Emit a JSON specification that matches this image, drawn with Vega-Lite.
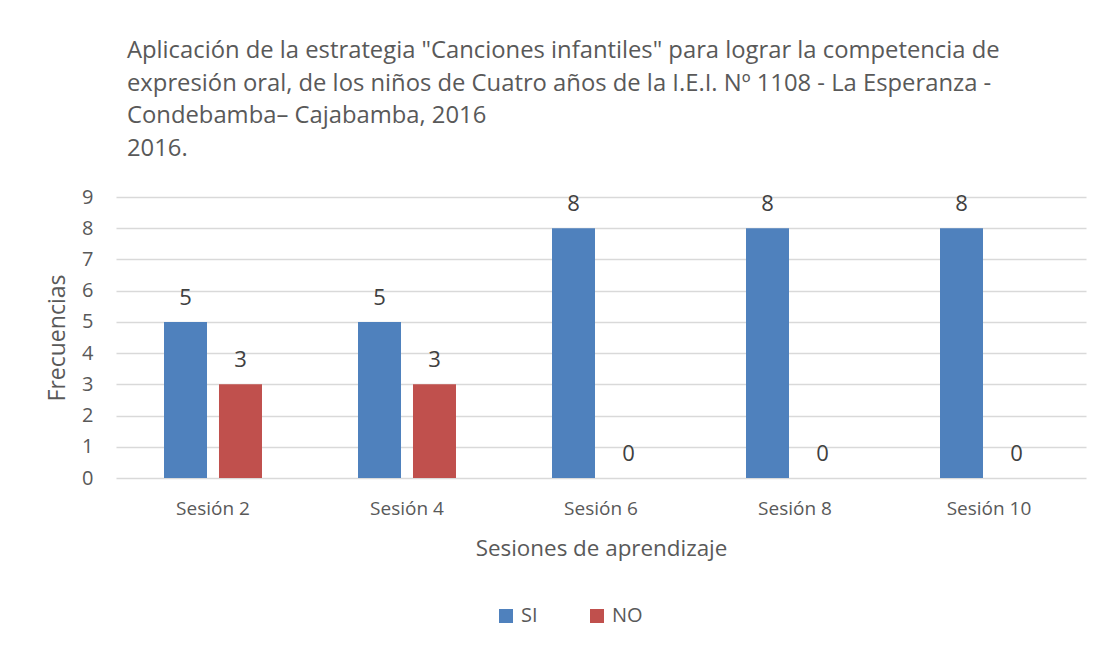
{
  "$schema": "https://vega.github.io/schema/vega-lite/v6.json",
  "width": 970,
  "height": 281,
  "autosize": {"type": "none"},
  "padding": {"left": 116, "top": 197, "right": 16, "bottom": 170},
  "background": "white",
  "config": {
    "font": "Open Sans",
    "view": {"stroke": null},
    "text": {"font": "Open Sans"}
  },
  "title": {
    "text": [
      "Aplicación de la estrategia \"Canciones infantiles\" para lograr la competencia de",
      "expresión oral, de los niños de Cuatro años de la I.E.I. Nº 1108 - La Esperanza -",
      "Condebamba– Cajabamba, 2016",
      "2016."
    ],
    "anchor": "start",
    "frame": "group",
    "dx": 11,
    "offset": 26,
    "fontSize": 23.8,
    "fontWeight": "normal",
    "lineHeight": 32.7,
    "color": "#595959",
    "font": "Open Sans"
  },
  "data": {
    "values": [
      {"sesion": "Sesión 2", "serie": "SI", "valor": 5},
      {"sesion": "Sesión 2", "serie": "NO", "valor": 3},
      {"sesion": "Sesión 4", "serie": "SI", "valor": 5},
      {"sesion": "Sesión 4", "serie": "NO", "valor": 3},
      {"sesion": "Sesión 6", "serie": "SI", "valor": 8},
      {"sesion": "Sesión 6", "serie": "NO", "valor": 0},
      {"sesion": "Sesión 8", "serie": "SI", "valor": 8},
      {"sesion": "Sesión 8", "serie": "NO", "valor": 0},
      {"sesion": "Sesión 10", "serie": "SI", "valor": 8},
      {"sesion": "Sesión 10", "serie": "NO", "valor": 0}
    ]
  },
  "encoding": {
    "x": {
      "field": "sesion",
      "type": "nominal",
      "sort": ["Sesión 2", "Sesión 4", "Sesión 6", "Sesión 8", "Sesión 10"],
      "scale": {"paddingInner": 0, "paddingOuter": 0},
      "axis": {
        "title": "Sesiones de aprendizaje",
        "titleFontSize": 22.4,
        "titleFontWeight": "normal",
        "titleColor": "#595959",
        "titlePadding": 19,
        "labelFontSize": 19,
        "labelColor": "#595959",
        "labelAngle": 0,
        "labelPadding": 21,
        "domain": false,
        "ticks": false
      }
    },
    "xOffset": {
      "field": "serie",
      "type": "nominal",
      "sort": ["SI", "NO"],
      "scale": {"paddingInner": 0.218, "paddingOuter": 0.873}
    },
    "y": {
      "field": "valor",
      "type": "quantitative",
      "scale": {"domain": [0, 9]},
      "axis": {
        "title": "Frecuencias",
        "titleFontSize": 23,
        "titleFontWeight": "normal",
        "titleColor": "#595959",
        "titlePadding": 12,
        "labelFontSize": 20,
        "labelColor": "#595959",
        "labelPadding": 23,
        "values": [0, 1, 2, 3, 4, 5, 6, 7, 8, 9],
        "domain": false,
        "ticks": false,
        "gridColor": "#D9D9D9",
        "gridWidth": 1.3
      }
    }
  },
  "layer": [
    {
      "mark": {"type": "bar"},
      "encoding": {
        "color": {
          "field": "serie",
          "type": "nominal",
          "sort": ["SI", "NO"],
          "scale": {"domain": ["SI", "NO"], "range": ["#4F81BD", "#C0504D"]},
          "legend": {
            "title": null,
            "orient": "none",
            "legendX": 380,
            "legendY": 409,
            "direction": "horizontal",
            "symbolType": "square",
            "symbolSize": 196,
            "symbolStrokeWidth": 0,
            "labelFontSize": 20,
            "labelColor": "#595959",
            "labelOffset": 5,
            "columnPadding": 49
          }
        }
      }
    },
    {
      "mark": {"type": "text", "baseline": "alphabetic", "dy": -17, "fontSize": 22, "color": "#404040"},
      "encoding": {
        "text": {"field": "valor", "type": "quantitative"}
      }
    }
  ]
}
